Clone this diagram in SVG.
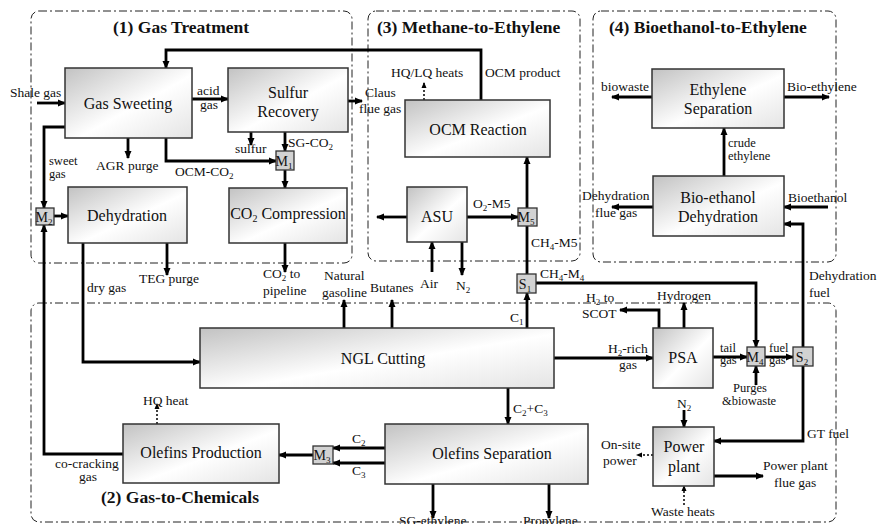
<svg xmlns="http://www.w3.org/2000/svg" width="879" height="524" viewBox="0 0 879 524" font-family="'Liberation Serif', 'DejaVu Serif', serif">
  <defs>
    <linearGradient id="unitFill" x1="0" y1="0" x2="1" y2="1">
      <stop offset="0" stop-color="#c2c2c2"/>
      <stop offset="0.55" stop-color="#ffffff"/>
      <stop offset="1" stop-color="#e4e4e4"/>
    </linearGradient>
    <marker id="ah" markerWidth="8" markerHeight="8" refX="7" refY="4" orient="auto" markerUnits="userSpaceOnUse">
      <path d="M0,0.5 L8,4 L0,7.5 z" fill="#000"/>
    </marker>
    <marker id="ahs" markerWidth="6" markerHeight="6" refX="5" refY="3" orient="auto" markerUnits="userSpaceOnUse">
      <path d="M0,0.5 L6,3 L0,5.5 z" fill="#000"/>
    </marker>
  </defs>
  <style>
    text { font-family: 'Liberation Serif', 'DejaVu Serif', serif; fill: #111; }
    .area { fill: none; stroke: #222; stroke-width: 1; stroke-dasharray: 8 3 2 3; }
    .title { font-size: 17.5px; font-weight: bold; }
    .unit rect { fill: url(#unitFill); stroke: #333; stroke-width: 1.5; }
    .unit text { font-size: 16px; text-anchor: middle; }
    .mix rect { fill: #d2d2d2; stroke: #333; stroke-width: 1.3; }
    .mix text { font-size: 14px; text-anchor: middle; }
    .flow path { fill: none; stroke: #000; stroke-width: 2.8; marker-end: url(#ah); }
    .flow path.line { marker-end: none; }
    .flow path.heat { stroke-width: 1.5; stroke-dasharray: 2 2; marker-end: url(#ahs); }
    .lbl { font-size: 13.5px; }
    .tight { font-size: 12.5px; }
    .sub { font-size: 9px; }
  </style>

  <!-- process areas -->
  <g id="areas">
    <rect class="area" x="31" y="11" width="321" height="252" rx="8"/>
    <rect class="area" x="368" y="11" width="212" height="250" rx="8"/>
    <rect class="area" x="593" y="11" width="243" height="251" rx="8"/>
    <rect class="area" x="31" y="303" width="805" height="219" rx="8"/>
    <text class="title" x="113" y="33">(1) Gas Treatment</text>
    <text class="title" x="377" y="33">(3) Methane-to-Ethylene</text>
    <text class="title" x="609" y="33">(4) Bioethanol-to-Ethylene</text>
    <text class="title" x="101" y="503">(2) Gas-to-Chemicals</text>
  </g>

  <!-- stream connectors -->
  <g id="connectors" class="flow">
    <path d="M37,103 H65"/>
    <path d="M481,100 V50 H166 V68"/>
    <path d="M192,99 H228"/>
    <path d="M348,101 H362"/>
    <path d="M128,138 V158"/>
    <path d="M65,127 H44 V208"/>
    <path d="M166,138 V161 H276"/>
    <path d="M251,132 V145"/>
    <path d="M285,132 V151"/>
    <path d="M285,170 V188"/>
    <path d="M285,243 V272"/>
    <path d="M54,216 H68"/>
    <path d="M167,243 V275"/>
    <path d="M83,243 V362 H200"/>
    <path d="M123,454 H44 V225"/>
    <path class="heat" d="M157,424 V404"/>
    <path d="M313,455 H279"/>
    <path d="M385,448 H333"/>
    <path d="M385,463 H333"/>
    <path d="M508,388 V424"/>
    <path d="M433,484 V518"/>
    <path d="M549,484 V518"/>
    <path d="M344,328 V300"/>
    <path d="M392,328 V300"/>
    <path d="M527,328 V293"/>
    <path class="line" d="M527,274 V226"/>
    <path d="M527,208 V157"/>
    <path d="M467,217 H518"/>
    <path d="M407,217 H377"/>
    <path d="M432,272 V242"/>
    <path d="M462,242 V275"/>
    <path d="M536,283 H756 V347"/>
    <path d="M659,328 V310 H620"/>
    <path d="M684,328 V303"/>
    <path d="M554,358 H653"/>
    <path d="M713,357 H747"/>
    <path d="M756,385 V366"/>
    <path d="M765,357 H793"/>
    <path d="M803,347 V224 H784"/>
    <path d="M803,366 V441 H714"/>
    <path d="M714,476 H763"/>
    <path class="heat" d="M653,455 H637"/>
    <path d="M684,410 V427"/>
    <path class="heat" d="M684,505 V486"/>
    <path d="M828,207 H784"/>
    <path d="M653,207 H612"/>
    <path d="M724,176 V128"/>
    <path d="M652,97 H612"/>
    <path d="M784,97 H829"/>
    <path class="heat" d="M424,100 V83"/>
  </g>

  <!-- stream labels -->
  <g id="labels">
    <text class="lbl" x="10" y="97">Shale gas</text>
    <text class="lbl" x="197" y="95">acid</text>
    <text class="lbl" x="200" y="109">gas</text>
    <text class="lbl" x="365" y="97">Claus</text>
    <text class="lbl" x="359" y="113">flue gas</text>
    <text class="tight" x="49" y="165">sweet</text>
    <text class="tight" x="49" y="178">gas</text>
    <text class="lbl" x="96" y="170">AGR purge</text>
    <text class="lbl" x="175" y="176">OCM-CO<tspan class="sub" dy="3">2</tspan></text>
    <text class="lbl" x="235" y="153">sulfur</text>
    <text class="lbl" x="288" y="147">SG-CO<tspan class="sub" dy="3">2</tspan></text>
    <text class="lbl" x="139" y="283">TEG purge</text>
    <text class="lbl" x="87" y="292">dry gas</text>
    <text class="lbl" x="263" y="278">CO<tspan class="sub" dy="3">2</tspan><tspan dy="-3"> to</tspan></text>
    <text class="lbl" x="263" y="295">pipeline</text>
    <text class="lbl" x="391" y="77">HQ/LQ heats</text>
    <text class="lbl" x="485" y="77">OCM product</text>
    <text class="lbl" x="473" y="208">O<tspan class="sub" dy="3">2</tspan><tspan dy="-3">-M5</tspan></text>
    <text class="lbl" x="531" y="247">CH<tspan class="sub" dy="3">4</tspan><tspan dy="-3">-M5</tspan></text>
    <text class="lbl" x="324" y="280">Natural</text>
    <text class="lbl" x="322" y="297">gasoline</text>
    <text class="lbl" x="370" y="292">Butanes</text>
    <text class="lbl" x="420" y="288">Air</text>
    <text class="lbl" x="456" y="290">N<tspan class="sub" dy="3">2</tspan></text>
    <text class="lbl" x="510" y="322">C<tspan class="sub" dy="3">1</tspan></text>
    <text class="lbl" x="540" y="278">CH<tspan class="sub" dy="3">4</tspan><tspan dy="-3">-M</tspan><tspan class="sub" dy="3">4</tspan></text>
    <text class="lbl" x="601" y="91">biowaste</text>
    <text class="lbl" x="787" y="91">Bio-ethylene</text>
    <text class="tight" x="728" y="147">crude</text>
    <text class="tight" x="728" y="160">ethylene</text>
    <text class="lbl" x="582" y="200">Dehydration</text>
    <text class="lbl" x="595" y="217">flue gas</text>
    <text class="lbl" x="788" y="202">Bioethanol</text>
    <text class="lbl" x="809" y="280">Dehydration</text>
    <text class="lbl" x="809" y="297">fuel</text>
    <text class="lbl" x="657" y="300">Hydrogen</text>
    <text class="lbl" x="586" y="302">H<tspan class="sub" dy="3">2</tspan><tspan dy="-3"> to</tspan></text>
    <text class="lbl" x="582" y="318">SCOT</text>
    <text class="lbl" x="608" y="353">H<tspan class="sub" dy="3">2</tspan><tspan dy="-3">-rich</tspan></text>
    <text class="lbl" x="619" y="369">gas</text>
    <text class="tight" x="720" y="352">tail</text>
    <text class="tight" x="720" y="364">gas</text>
    <text class="tight" x="769" y="352">fuel</text>
    <text class="tight" x="769" y="364">gas</text>
    <text class="tight" x="733" y="392">Purges</text>
    <text class="tight" x="722" y="405">&amp;biowaste</text>
    <text class="lbl" x="677" y="408">N<tspan class="sub" dy="3">2</tspan></text>
    <text class="lbl" x="807" y="438">GT fuel</text>
    <text class="lbl" x="601" y="449">On-site</text>
    <text class="lbl" x="603" y="465">power</text>
    <text class="lbl" x="763" y="470">Power plant</text>
    <text class="lbl" x="774" y="487">flue gas</text>
    <text class="lbl" x="651" y="516">Waste heats</text>
    <text class="lbl" x="143" y="405">HQ heat</text>
    <text class="lbl" x="55" y="468">co-cracking</text>
    <text class="lbl" x="79" y="481">gas</text>
    <text class="lbl" x="513" y="413">C<tspan class="sub" dy="3">2</tspan><tspan dy="-3">+C</tspan><tspan class="sub" dy="3">3</tspan></text>
    <text class="lbl" x="352" y="443">C<tspan class="sub" dy="3">2</tspan></text>
    <text class="lbl" x="352" y="475">C<tspan class="sub" dy="3">3</tspan></text>
    <text class="lbl" x="399" y="525">SG-ethylene</text>
    <text class="lbl" x="523" y="525">Propylene</text>
  </g>

  <!-- process units -->
  <g id="gas-sweeting" class="unit"><rect x="65" y="68" width="127" height="70"/><text x="128" y="109">Gas Sweeting</text></g>
  <g id="sulfur-recovery" class="unit"><rect x="228" y="68" width="120" height="64"/><text x="288" y="98">Sulfur</text><text x="288" y="117">Recovery</text></g>
  <g id="co2-compression" class="unit"><rect x="229" y="188" width="118" height="55"/><text x="288" y="219">CO<tspan font-size="10" dy="3">2</tspan><tspan dy="-3"> Compression</tspan></text></g>
  <g id="dehydration" class="unit"><rect x="68" y="187" width="119" height="56"/><text x="127" y="221">Dehydration</text></g>
  <g id="ocm-reaction" class="unit"><rect x="405" y="100" width="145" height="57"/><text x="478" y="135">OCM Reaction</text></g>
  <g id="asu" class="unit"><rect x="407" y="187" width="60" height="55"/><text x="437" y="222">ASU</text></g>
  <g id="ethylene-separation" class="unit"><rect x="652" y="69" width="132" height="59"/><text x="718" y="95">Ethylene</text><text x="718" y="114">Separation</text></g>
  <g id="bioethanol-dehydration" class="unit"><rect x="653" y="176" width="131" height="60"/><text x="718" y="203">Bio-ethanol</text><text x="718" y="222">Dehydration</text></g>
  <g id="ngl-cutting" class="unit"><rect x="200" y="328" width="354" height="60"/><text x="383" y="364">NGL Cutting</text></g>
  <g id="psa" class="unit"><rect x="653" y="328" width="60" height="60"/><text x="683" y="363">PSA</text></g>
  <g id="olefins-production" class="unit"><rect x="123" y="424" width="156" height="59"/><text x="201" y="458">Olefins Production</text></g>
  <g id="olefins-separation" class="unit"><rect x="385" y="424" width="203" height="60"/><text x="492" y="459">Olefins Separation</text></g>
  <g id="power-plant" class="unit"><rect x="653" y="427" width="61" height="59"/><text x="684" y="452">Power</text><text x="684" y="472">plant</text></g>

  <!-- mixers and splitters -->
  <g id="m1" class="mix"><rect x="276" y="151" width="18" height="19"/><text x="284" y="166">M<tspan class="sub" dy="3">1</tspan></text></g>
  <g id="m2" class="mix"><rect x="36" y="208" width="18" height="17"/><text x="44" y="222">M<tspan class="sub" dy="3">2</tspan></text></g>
  <g id="m3" class="mix"><rect x="313" y="446" width="20" height="18"/><text x="322" y="460">M<tspan class="sub" dy="3">3</tspan></text></g>
  <g id="m4" class="mix"><rect x="747" y="347" width="18" height="19"/><text x="755" y="362">M<tspan class="sub" dy="3">4</tspan></text></g>
  <g id="m5" class="mix"><rect x="518" y="208" width="19" height="18"/><text x="526" y="222">M<tspan class="sub" dy="3">5</tspan></text></g>
  <g id="s1" class="mix"><rect x="517" y="274" width="19" height="19"/><text x="525" y="289">S<tspan class="sub" dy="3">1</tspan></text></g>
  <g id="s2" class="mix"><rect x="793" y="347" width="20" height="19"/><text x="802" y="362">S<tspan class="sub" dy="3">2</tspan></text></g>
</svg>
